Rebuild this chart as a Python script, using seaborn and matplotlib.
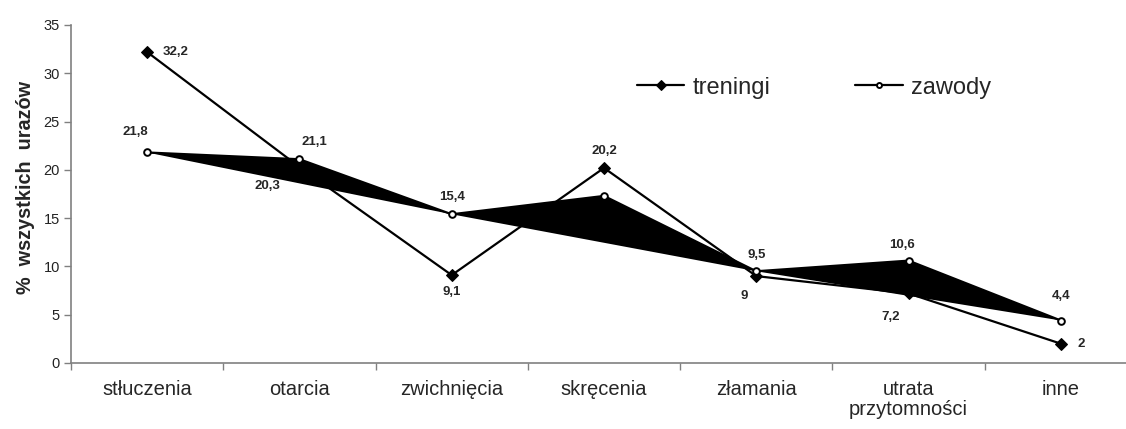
import matplotlib
matplotlib.use("Agg")
import matplotlib.pyplot as plt
import seaborn as sns
import numpy as np

categories = ["stłuczenia", "otarcia", "zwichnięcia", "skręcenia", "złamania",
              "utrata\nprzytomności", "inne"]
treningi = [32.2, 20.3, 9.1, 20.2, 9.0, 7.2, 2.0]
zawody = [21.8, 21.1, 15.4, 17.3, 9.5, 10.6, 4.4]
treningi_labels = ["32,2", "20,3", "9,1", "20,2", "9", "7,2", "2"]
zawody_labels = ["21,8", "21,1", "15,4", None, "9,5", "10,6", "4,4"]
yticks = [0, 5, 10, 15, 20, 25, 30, 35]

# label offsets in pixels (style)
tr_off = [(28, 0), (-32, -19), (0, -17), (0, 17), (-12, -20), (-18, -24), (20, 0)]
za_off = [(-12, 20), (15, 17), (0, 17), (0, 0), (0, 16), (-7, 16), (0, 25)]

sns.set_style("white")
plt.rcParams['font.family'] = ['Liberation Sans', 'DejaVu Sans']

fig = plt.figure(figsize=(11.26, 4.29), dpi=100)
ax = fig.add_axes([71/1126, 66/429, 1066/1126, 338/429])

x = np.arange(len(categories))

# black filled triangles (artifact of original chart)
for i in range(0, len(x) - 2, 2):
    ax.fill(x[i:i+3], zawody[i:i+3], color="black", zorder=1, lw=0)

sns.lineplot(x=x, y=treningi, ax=ax, color="black", lw=1.6, marker="D",
             markersize=6.5, markerfacecolor="black", markeredgecolor="black",
             label="treningi", zorder=3)
sns.lineplot(x=x, y=zawody, ax=ax, color="black", lw=1.6, marker="o",
             markersize=4.8, markerfacecolor="white", markeredgecolor="black",
             markeredgewidth=1.4, label="zawody", zorder=3)

for xi, v, lab, off in zip(x, treningi, treningi_labels, tr_off):
    if lab:
        ax.annotate(lab, (xi, v), xytext=off, textcoords="offset pixels",
                    ha="center", va="center", fontsize=9.5, fontweight="bold")
for xi, v, lab, off in zip(x, zawody, zawody_labels, za_off):
    if lab:
        ax.annotate(lab, (xi, v), xytext=off, textcoords="offset pixels",
                    ha="center", va="center", fontsize=9.5, fontweight="bold")

ax.set_xlim(-0.5, len(categories) - 0.5)
ax.set_ylim(0, 35)
ax.set_yticks(yticks)
ax.set_yticklabels([str(t) for t in yticks], fontsize=10.5, color="#222222")
ax.set_xticks(np.arange(-0.5, len(categories) + 0.5, 1.0))
ax.set_xticklabels([])
ax.set_xticks(x, minor=True)
ax.set_xticklabels(categories, minor=True, fontsize=14.5, va="top",
                   linespacing=1.1)
ax.tick_params(axis="x", which="minor", length=0, pad=12)
ax.tick_params(axis="x", which="major", direction="out", length=5, width=1,
               color="#808080", bottom=True)
ax.tick_params(axis="y", direction="out", length=5, width=1, color="#808080",
               left=True, pad=3)

for s in ["top", "right"]:
    ax.spines[s].set_visible(False)
for s in ["left", "bottom"]:
    ax.spines[s].set_color("#808080")
    ax.spines[s].set_linewidth(1.2)

ax.set_ylabel("%  wszystkich  urazów", fontsize=14.3, fontweight="bold")
ax.yaxis.set_label_coords(-0.034, 0.519)
ax.set_xlabel("")

ax.legend(loc="center", bbox_to_anchor=(0.697, 0.815), ncol=2, frameon=False,
          fontsize=17, handlelength=2.0, handletextpad=0.35, columnspacing=3.6,
          markerscale=0.75)

fig.savefig("out.png", dpi=100)
